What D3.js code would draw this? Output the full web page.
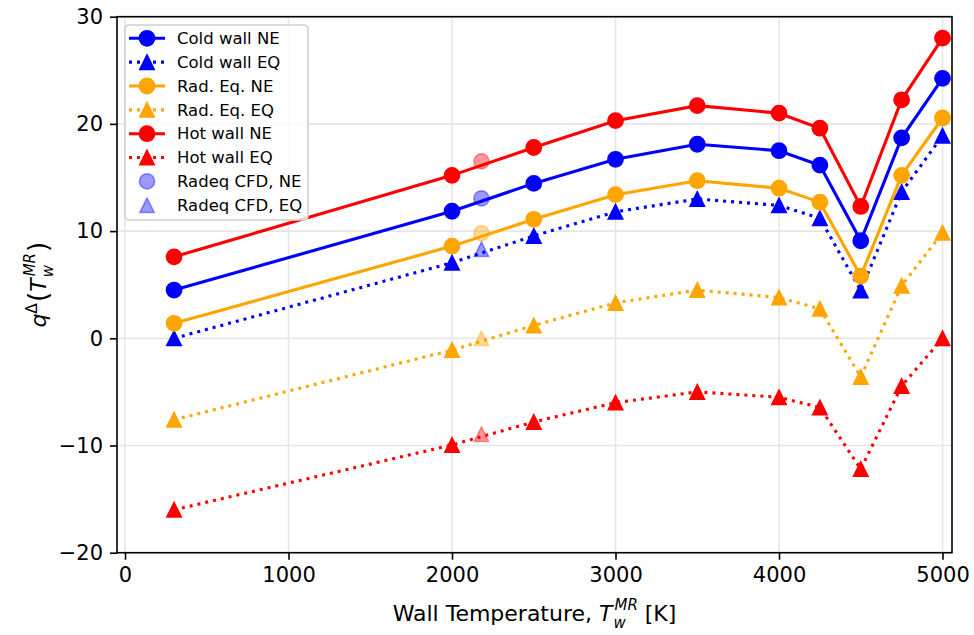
<!DOCTYPE html>
<head>
  <meta charset="utf-8" />
  <title>heat flux vs wall temperature</title>
  <script src="https://d3js.org/d3.v7.min.js"></script>
  <style>
    body { margin: 0; background: #fff; }
    text { font-family: "DejaVu Sans", sans-serif; fill: #000; }
  </style>
</head>
<body>
<script>
  // values
  const temps = [300, 2000, 2500, 3000, 3500, 4000, 4250, 4500, 4750, 5000];
  const coldNE = [4.5, 11.85, 14.45, 16.7, 18.1, 17.5, 16.15, 9.1, 18.7, 24.25];
  const coldEQ = [0.0, 7.05, 9.55, 11.8, 13.0, 12.4, 11.2, 4.45, 13.65, 18.9];
  const radNE = [1.4, 8.6, 11.1, 13.4, 14.7, 14.0, 12.7, 5.8, 15.2, 20.55];
  const radEQ = [-7.6, -1.1, 1.2, 3.3, 4.5, 3.8, 2.75, -3.6, 4.9, 9.85];
  const hotNE = [7.6, 15.2, 17.8, 20.3, 21.7, 21.0, 19.6, 12.3, 22.25, 28.0];
  const hotEQ = [-16.0, -9.95, -7.8, -6.0, -5.0, -5.5, -6.45, -12.2, -4.45, 0.0];

  const cfdTemp = 2180;
  const cfdNE = [13.05, 9.8, 16.5]; // cold, radeq, hot colours
  const cfdEQ = [8.3, 0.0, -8.95];

  const xTicks = [0, 1000, 2000, 3000, 4000, 5000];
  const yTicks = [-20, -10, 0, 10, 20, 30];

  const series = [
    { name: "Cold wall NE", values: coldNE, color: "#0000ff", dash: null, marker: "circle" },
    { name: "Cold wall EQ", values: coldEQ, color: "#0000ff", dash: "3,5", marker: "tri" },
    { name: "Rad. Eq. NE", values: radNE, color: "#ffa500", dash: null, marker: "circle" },
    { name: "Rad. Eq. EQ", values: radEQ, color: "#ffa500", dash: "3,5", marker: "tri" },
    { name: "Hot wall NE", values: hotNE, color: "#ff0000", dash: null, marker: "circle" },
    { name: "Hot wall EQ", values: hotEQ, color: "#ff0000", dash: "3,5", marker: "tri" },
  ];
  const cfdColors = ["#0000ff", "#ffa500", "#ff0000"];

  const W = 974, H = 635;
  const pL = 117, pR = 952, pT = 16.7, pB = 552.7;

  const x = d3.scaleLinear().domain([-49, 5058]).range([pL, pR]);
  const y = d3.scaleLinear().domain([-20, 30]).range([pB, pT]);

  const svg = d3.select("body").append("svg")
    .attr("width", W).attr("height", H);

  // grid
  const grid = svg.append("g").attr("stroke", "#e6e6e6").attr("stroke-width", 1.6);
  grid.selectAll(".gx").data(xTicks).join("line").attr("class", "gx")
    .attr("x1", d => x(d)).attr("x2", d => x(d)).attr("y1", pT).attr("y2", pB);
  grid.selectAll(".gy").data(yTicks).join("line").attr("class", "gy")
    .attr("x1", pL).attr("x2", pR).attr("y1", d => y(d)).attr("y2", d => y(d));

  const triPath = (s) => `M0,${-s}L${s},${s}L${-s},${s}Z`;

  function drawMarker(sel, kind, color, opacity) {
    if (kind === "circle") {
      sel.append("circle").attr("r", 7.6)
        .attr("fill", color).attr("stroke", color).attr("stroke-width", 1.6)
        .attr("fill-opacity", opacity).attr("stroke-opacity", opacity);
    } else {
      sel.append("path").attr("d", triPath(7.2))
        .attr("fill", color).attr("stroke", color).attr("stroke-width", 1.6)
        .attr("stroke-linejoin", "miter")
        .attr("fill-opacity", opacity).attr("stroke-opacity", opacity);
    }
  }

  const line = d3.line().x((d, i) => x(temps[i])).y(d => y(d));

  series.forEach(s => {
    const g = svg.append("g");
    g.append("path").attr("d", line(s.values))
      .attr("fill", "none").attr("stroke", s.color).attr("stroke-width", 3.1)
      .attr("stroke-dasharray", s.dash);
    s.values.forEach((v, i) => {
      const m = g.append("g").attr("transform", `translate(${x(temps[i])},${y(v)})`);
      drawMarker(m, s.marker, s.color, 1);
    });
  });

  // CFD points
  cfdNE.forEach((v, i) => {
    const m = svg.append("g").attr("transform", `translate(${x(cfdTemp)},${y(v)})`);
    drawMarker(m, "circle", cfdColors[i], 0.4);
  });
  cfdEQ.forEach((v, i) => {
    const m = svg.append("g").attr("transform", `translate(${x(cfdTemp)},${y(v)})`);
    drawMarker(m, "tri", cfdColors[i], 0.4);
  });

  // axes
  const xAxis = svg.append("g").attr("transform", `translate(0,${pB})`)
    .call(d3.axisBottom(x).tickValues(xTicks).tickSize(7).tickPadding(7).tickSizeOuter(0)
      .tickFormat(d3.format("d")));
  const yAxis = svg.append("g").attr("transform", `translate(${pL},0)`)
    .call(d3.axisLeft(y).tickValues(yTicks).tickSize(7).tickPadding(7).tickSizeOuter(0)
      .tickFormat(d => d < 0 ? "\u2212" + Math.abs(d) : d));
  [xAxis, yAxis].forEach(a => {
    a.select(".domain").remove();
    a.selectAll("line").attr("stroke", "#000").attr("stroke-width", 1.6);
    a.selectAll("text").attr("font-size", 21).attr("font-family", "DejaVu Sans");
  });

  // frame
  svg.append("rect").attr("x", pL).attr("y", pT)
    .attr("width", pR - pL).attr("height", pB - pT)
    .attr("fill", "none").attr("stroke", "#000").attr("stroke-width", 1.6);

  // math-ish labels built from pieces
  function mathLabel(g, parts, size) {
    let cx = 0, prevStart = 0;
    parts.forEach(p => {
      const start = (p.stack ? prevStart : cx) + (p.dx || 0);
      const t = g.append("text").attr("x", start).attr("y", p.dy || 0)
        .attr("font-size", size * (p.scale || 1))
        .attr("font-style", p.italic ? "italic" : "normal")
        .text(p.t);
      const w = t.node().getComputedTextLength();
      const end = start + w;
      cx = p.stack ? Math.max(cx, end) : end;
      prevStart = start;
    });
    return cx;
  }

  const xl = svg.append("g");
  const xlw = mathLabel(xl, [
    { t: "Wall Temperature,\u00a0" },
    { t: "T", italic: true },
    { t: "w", italic: true, scale: 0.68, dy: 7, dx: 1 },
    { t: "MR", italic: true, scale: 0.68, dy: -11.5, stack: true, dx: 1 },
    { t: "\u00a0[K]" },
  ], 22);
  xl.attr("transform", `translate(${(pL + pR) / 2 - xlw / 2},621)`);

  const yl = svg.append("g");
  const ylw = mathLabel(yl, [
    { t: "q", italic: true },
    { t: "\u0394", scale: 0.7, dy: -9 },
    { t: "(", scale: 1.2, dy: 1, dx: 1 },
    { t: "T", italic: true },
    { t: "w", italic: true, scale: 0.68, dy: 7, dx: 1 },
    { t: "MR", italic: true, scale: 0.68, dy: -11.5, stack: true, dx: 1 },
    { t: ")", scale: 1.2, dy: 1, dx: 1 },
  ], 22);
  yl.attr("transform", `translate(46,${(pT + pB) / 2 + ylw / 2}) rotate(-90)`);

  // legend
  const legendItems = series.map(s => ({ name: s.name, color: s.color, dash: s.dash, marker: s.marker, line: true, op: 1 }))
    .concat([
      { name: "Radeq CFD, NE", color: "#0000ff", marker: "circle", line: false, op: 0.4 },
      { name: "Radeq CFD, EQ", color: "#0000ff", marker: "tri", line: false, op: 0.4 },
    ]);
  const lg = svg.append("g");
  lg.append("rect").attr("x", 125).attr("y", 25).attr("width", 183).attr("height", 195)
    .attr("rx", 4).attr("fill", "#fff").attr("fill-opacity", 0.8)
    .attr("stroke", "#d0d0d0").attr("stroke-width", 1.6);
  legendItems.forEach((d, i) => {
    const cy = 38.3 + i * 23.85;
    const row = lg.append("g");
    if (d.line) {
      row.append("line").attr("x1", 129).attr("x2", 165).attr("y1", cy).attr("y2", cy)
        .attr("stroke", d.color).attr("stroke-width", 3.1).attr("stroke-dasharray", d.dash);
    }
    const m = row.append("g").attr("transform", `translate(147,${cy})`);
    drawMarker(m, d.marker, d.color, d.op);
    row.append("text").attr("x", 177).attr("y", cy).attr("dy", "0.35em")
      .attr("font-size", 16.5).text(d.name);
  });
</script>
</body>
